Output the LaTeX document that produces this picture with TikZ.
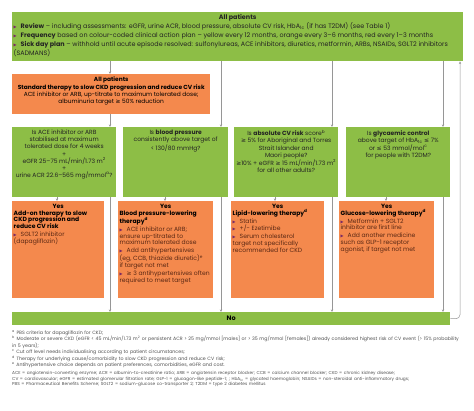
\documentclass[tikz,border=0pt]{standalone}
\usepackage{fontspec}
\setmainfont{Poppins}
\newfontfamily\symfont{DejaVu Sans}
\usetikzlibrary{arrows.meta}

\definecolor{pgreen}{RGB}{141,190,70}
\definecolor{porange}{RGB}{244,137,77}
\definecolor{lanegray}{RGB}{150,150,150}
\definecolor{bulletpurple}{RGB}{120,40,100}
\definecolor{bodybrown}{RGB}{90,40,20}
\definecolor{textdark}{RGB}{35,35,35}
\definecolor{notegray}{RGB}{80,80,80}

\newcommand{\fs}[2]{\fontsize{#1bp}{#2bp}\selectfont}
\newcommand{\geqs}{{\symfont ≥}}
\newcommand{\leqs}{{\symfont ≤}}
\newcommand{\bul}{{\symfont\color{bulletpurple}\fontsize{4bp}{4bp}\selectfont ▶}}
\newcommand{\itm}{\par\hangindent=7bp\hangafter=1\noindent\makebox[7bp][l]{\bul}}
\newcommand{\ritm}{\par\vspace{1.2bp}\itm}

\tikzset{
  panel/.style={fill=#1, inner xsep=2bp, inner ysep=3bp, anchor=north west},
  inbox/.style n args={3}{execute at begin node={\begin{minipage}[c][#2][t]{#1}#3},
    execute at end node={\end{minipage}}},
  lane/.style={draw=lanegray, line width=0.5bp},
  lanearrow/.style={lane, -{Stealth[length=2.6bp,width=2.4bp]}},
}

\begin{document}
\begin{tikzpicture}[x=1bp, y=-1bp]
  \useasboundingbox (0,0) rectangle (474,410);

  %% top panel
  \node[panel=pgreen, inner xsep=1.5bp, inner ysep=2bp, inbox={448bp}{45bp}{\raggedright},
        font=\fs{6.4}{9}\color{textdark}] (top) at (12,12) {%
    {\centering\bfseries All patients\par}
    \itm\textbf{Review} – including assessments: eGFR, urine ACR, blood pressure, absolute CV risk, HbA\textsubscript{1c} (if has T2DM) (see Table 1)
    \itm\textbf{Frequency} based on colour-coded clinical action plan – yellow every 12 months, orange every 3–6 months, red every 1–3 months
    \itm\textbf{Sick day plan} – withhold until acute episode resolved: sulfonylureas, ACE inhibitors, diuretics, metformin, ARBs, NSAIDs, SGLT2 inhibitors (SADMANS)};

  %% standard therapy
  \node[panel=porange, inbox={194bp}{34bp}{\centering}, font=\fs{5.9}{7.3}\color{black}] (std) at (12,74) {%
    \textbf{All patients}\\
    \textbf{Standard therapy to slow CKD progression and reduce CV risk}\\
    ACE inhibitor or ARB, up-titrate to maximum tolerated dose;\\
    albuminuria target \geqs\ 50\% reduction};

  %% questions
  \tikzset{qtext/.style={font=\fs{6.0}{7.1}\color{textdark}}}
  \node[panel=pgreen, qtext, inbox={100bp}{64bp}{\centering}] (q1) at (12,127) {%
    Is ACE inhibitor or ARB\\ stabilised at maximum\\ tolerated dose for 4 weeks\\ +\\
    eGFR 25–75 mL/min/1.73 m\textsuperscript{2}\\ +\\ urine ACR 22.6–565 mg/mmol\textsuperscript{a}?};
  \node[panel=pgreen, qtext, inbox={101bp}{64bp}{\centering}] (q2) at (123,127) {%
    Is \textbf{blood pressure}\\ consistently above target of\\ < 130/80 mmHg?};
  \node[panel=pgreen, qtext, inbox={100bp}{64bp}{\centering}] (q3) at (234,127) {%
    Is \textbf{absolute CV risk} score\textsuperscript{b}\\ \geqs\ 5\% for Aboriginal and Torres\\
    Strait Islander and\\ Maori people?\\ \geqs10\% + eGFR \geqs\ 15 mL/min/1.73 m\textsuperscript{2}\\
    for all other adults?};
  \node[panel=pgreen, qtext, inbox={100bp}{64bp}{\centering}] (q4) at (346,127) {%
    Is \textbf{glycaemic control}\\ above target of HbA\textsubscript{1c} \leqs\ 7\%\\
    or \leqs\ 53 mmol/mol\textsuperscript{c}\\ for people with T2DM?};

  %% results
  \tikzset{rtext/.style={font=\fs{6.05}{6.7}\color{bodybrown}, inner xsep=1.5bp}}
  \node[panel=porange, rtext, inbox={89bp}{91bp}{\raggedright}] (r1) at (12,201) {%
    {\centering\color{black}\bfseries Yes\par}
    {\color{black}\bfseries Add-on therapy to slow\\ CKD progression and\\ reduce CV risk\par}
    \ritm SGLT2 inhibitor\\ (dapagliflozin)};
  \node[panel=porange, rtext, inbox={92bp}{91bp}{\raggedright}] (r2) at (118,201) {%
    {\centering\color{black}\bfseries Yes\par}
    {\color{black}\bfseries Blood pressure-lowering\\ therapy\textsuperscript{d}\par}
    \ritm ACE inhibitor or ARB;\\ ensure up-titrated to\\ maximum tolerated dose
    \ritm Add antihypertensives\\ \mbox{(eg, CCB, thiazide diuretic)\textsuperscript{e}}\\ if target not met
    \ritm \geqs\ 3 antihypertensives often\\ required to meet target};
  \node[panel=porange, rtext, inbox={90bp}{91bp}{\raggedright}] (r3) at (231,201) {%
    {\centering\color{black}\bfseries Yes\par}
    {\color{black}\bfseries Lipid-lowering therapy\textsuperscript{d}\par}
    \ritm Statin
    \ritm +/- Ezetimibe
    \ritm Serum cholesterol\\ target not specifically\\ recommended for CKD};
  \node[panel=porange, rtext, inbox={92bp}{91bp}{\raggedright}] (r4) at (339,201) {%
    {\centering\color{black}\bfseries Yes\par}
    {\color{black}\bfseries Glucose-lowering therapy\textsuperscript{d}\par}
    \ritm Metformin + SGLT2\\ inhibitor are first line
    \ritm Add another medicine\\ such as GLP-1 receptor\\ agonist, if target not met};

  %% no bar
  \node[panel=pgreen, inner sep=0pt, minimum width=438bp, minimum height=13bp,
        font=\fs{6.5}{7}\bfseries\color{black}] (nobar) at (12,312) {No};

  %% lanes
  \coordinate (l1) at (110,0);  \coordinate (l2) at (221,0);
  \coordinate (l3) at (332,0);  \coordinate (l4) at (443,0);
  \coordinate (yes1) at (57,0); \coordinate (yes2) at (165,0);
  \coordinate (yes3) at (275,0); \coordinate (yes4) at (386,0);
  \coordinate (loop) at (460,0);

  \draw[lanearrow] (top.south -| l1) -- (std.north -| l1);
  \draw[lanearrow] (std.south -| l1) -- (q1.north -| l1);
  \foreach \i in {2,3,4}
    \draw[lanearrow] (top.south -| l\i) -- (q\i.north -| l\i);
  \foreach \i in {1,...,4} {
    \draw[lanearrow] (q\i.south -| yes\i) -- (r\i.north -| yes\i);
    \draw[lanearrow] (q\i.south -| l\i) -- (nobar.north -| l\i);
  }
  \draw[lanearrow, rounded corners=4bp] (nobar.east) -| (top.south -| loop);

  %% footnotes
  \node[anchor=north west, inner sep=0pt, text width=451bp, align=left,
        font=\fs{4.72}{5.0}\color{notegray}] (notes) at (12,330) {%
    \textsuperscript{a} PBS criteria for dapagliflozin for CKD;\\
    \textsuperscript{b} Moderate or severe CKD (eGFR < 45 mL/min/1.73 m\textsuperscript{2} or persistent ACR > 25 mg/mmol [males] or > 35 mg/mmol [females]) already considered highest risk of CV event (> 15\% probability in 5 years);\\
    \textsuperscript{c} Cut off level needs individualising according to patient circumstances;\\
    \textsuperscript{d} Therapy for underlying cause/comorbidity to slow CKD progression and reduce CV risk;\\
    \textsuperscript{e} Antihypertensive choice depends on patient preferences, comorbidities, eGFR and cost.\par
    \vspace{2.5bp}\fs{4.3}{5.7}
    ACE = angiotensin-converting enzyme; ACR = albumin-to-creatinine ratio; ARB = angiotensin receptor blocker; CCB = calcium channel blocker; CKD = chronic kidney disease;\\
    CV = cardiovascular; eGFR = estimated glomerular filtration rate; GLP-1 = glucagon-like peptide-1; ; HbA\textsubscript{1c} = glycated haemoglobin; NSAIDs = non-steroidal anti-inflammatory drugs;\\
    PBS = Pharmaceutical Benefits Scheme; SGLT2 = sodium-glucose co-transporter 2; T2DM = type 2 diabetes mellitus};
\end{tikzpicture}
\end{document}
